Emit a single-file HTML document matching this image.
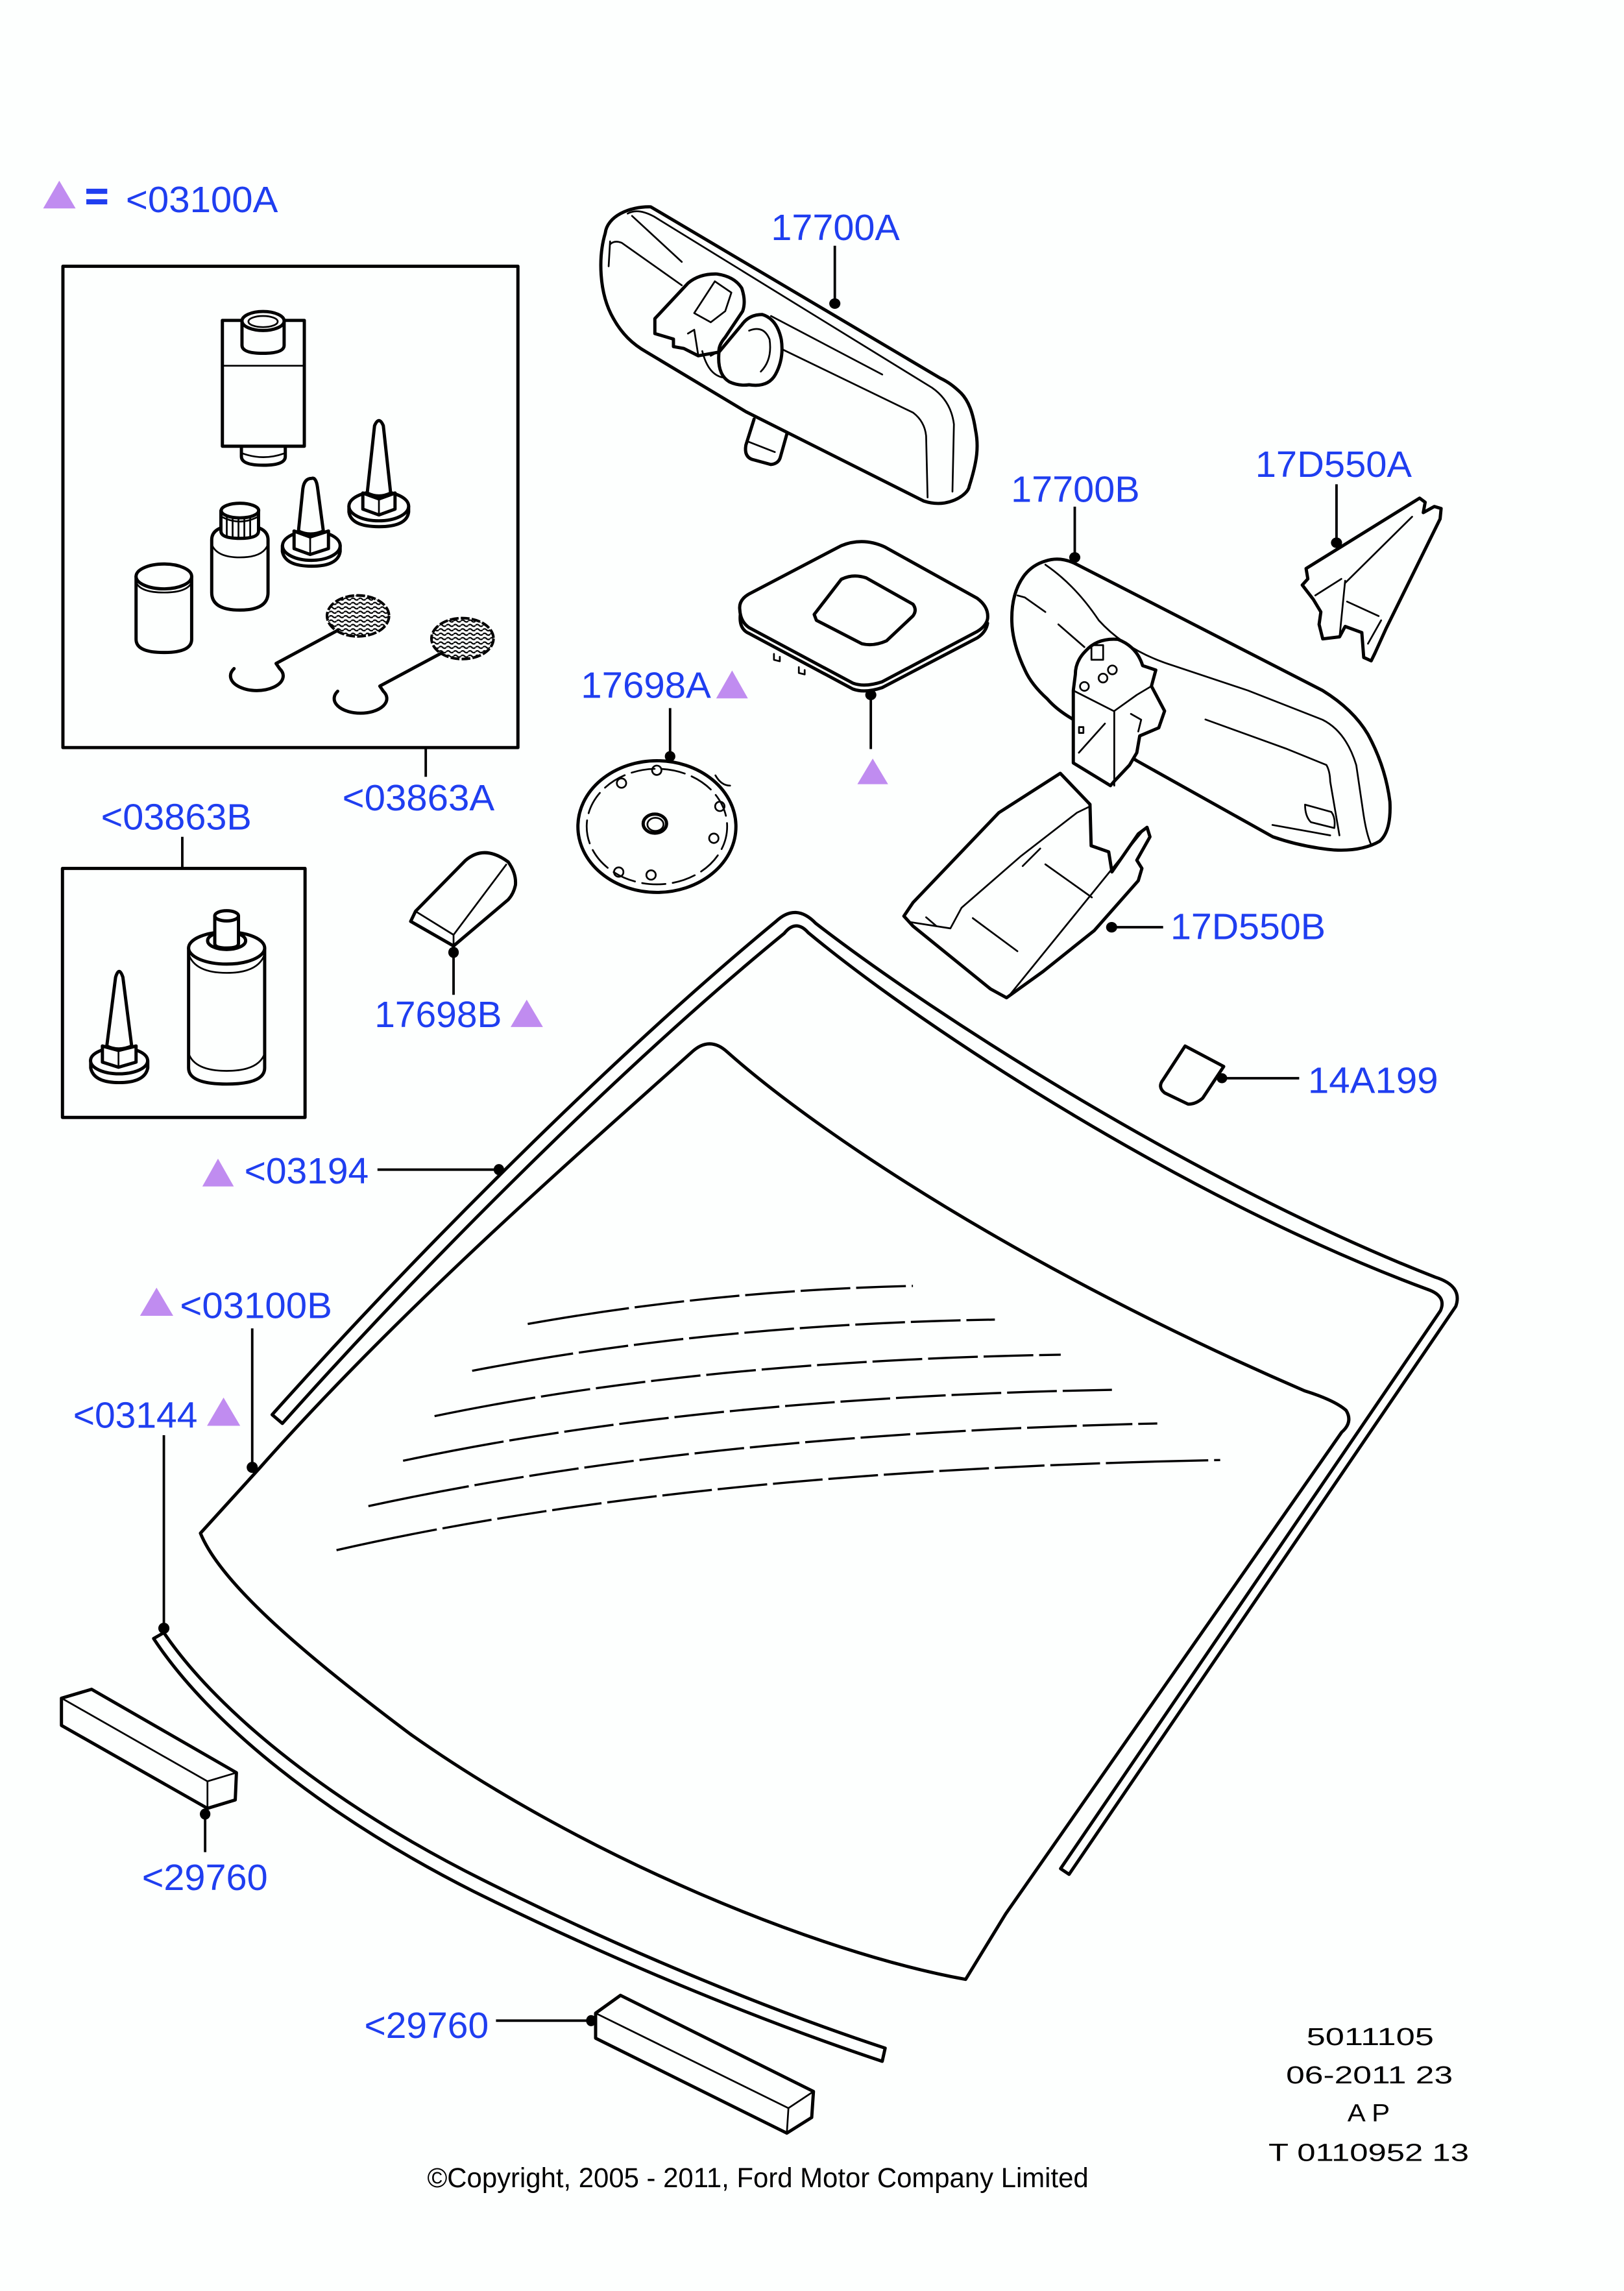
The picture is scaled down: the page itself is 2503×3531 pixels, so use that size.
<!DOCTYPE html>
<html>
<head>
<meta charset="utf-8">
<style>
html,body{margin:0;padding:0;background:#fdfffe;}
svg{display:block;}
.k{fill:none;stroke:#000;stroke-width:2.2;stroke-linejoin:round;stroke-linecap:round}
.kw{fill:#fdfffe;stroke:#000;stroke-width:2.2;stroke-linejoin:round;stroke-linecap:round}
.t{fill:none;stroke:#000;stroke-width:1.2;stroke-linejoin:round;stroke-linecap:round}
.l{fill:none;stroke:#000;stroke-width:1.7}
.g{fill:none;stroke:#000;stroke-width:1.5;stroke-linecap:butt}
.lab{font-family:"Liberation Sans",Arial,sans-serif;font-size:25px;fill:#1f3ef0}
.blk{font-family:"Liberation Sans",Arial,sans-serif;fill:#000}
.tri{fill:#c08cf0}
</style>
</head>
<body>
<svg width="2503" height="3531" viewBox="0 0 1110 1566" preserveAspectRatio="none" xmlns="http://www.w3.org/2000/svg">
<defs>
<pattern id="mesh" patternUnits="userSpaceOnUse" width="5" height="3">
<path d="M0,1.5 q1.25,-1.3 2.5,0 q1.25,1.3 2.5,0" stroke="#000" stroke-width="1" fill="none"/>
</pattern>
</defs>
<rect x="0" y="0" width="1110" height="1566" fill="#fdfffe"/>

<!-- Legend -->
<polygon class="tri" points="29.5,142.5 40.5,123.5 51.7,142.5"/>
<rect x="59" y="129" width="14.3" height="3.5" fill="#1f3ef0"/>
<rect x="59" y="136.2" width="14.3" height="3.5" fill="#1f3ef0"/>
<text class="lab" x="86" y="145" textLength="104" lengthAdjust="spacingAndGlyphs">&lt;03100A</text>

<!-- Box 1 -->
<rect x="43" y="182" width="311" height="329" class="k"/>
<line class="l" x1="291" y1="511" x2="291" y2="531"/>
<text class="lab" x="234" y="554" textLength="104" lengthAdjust="spacingAndGlyphs">&lt;03863A</text>

<!-- cartridge -->
<path class="k" d="M165,305 L165,312 Q165,318 180,318 Q195,318 195,312 L195,305"/>
<path class="t" d="M166,310 Q180,315 194,310"/>
<rect class="kw" x="152" y="219" width="56" height="86"/>
<line class="t" x1="152" y1="250" x2="208" y2="250"/>
<path class="kw" d="M165.4,219.4 L165.4,236 Q165.4,241.5 179.8,241.5 Q194.2,241.5 194.2,236 L194.2,219.4"/>
<ellipse class="kw" cx="179.8" cy="219.4" rx="14.4" ry="6.5"/>
<ellipse class="t" cx="179.8" cy="219.8" rx="10" ry="3.8"/>

<!-- tall cone -->
<path class="k" d="M238.5,346 L238.5,350 Q240,360 259,360 Q278,360 279.3,350 L279.3,346"/>
<ellipse class="kw" cx="258.9" cy="346" rx="20.4" ry="10"/>
<path class="kw" d="M248,337 L248,348 L259,352 L270,348 L270,337 L259,341 Z"/>
<line class="t" x1="259" y1="341" x2="259" y2="352"/>
<path class="kw" d="M251,337 L256,291 Q259,284 262,291 L267,337 Q259,341 251,337 Z"/>
<path class="k" d="M248,337 L259,341 L270,337"/>

<!-- short cone -->
<path class="k" d="M193,373 L193,377 Q195,387 213,387 Q231,387 232.5,377 L232.5,373"/>
<ellipse class="kw" cx="212.8" cy="373" rx="19.7" ry="10"/>
<path class="kw" d="M201,363 L201,375 L212,379 L224.5,375 L224.5,363 L212,367 Z"/>
<line class="t" x1="212" y1="367" x2="212" y2="379"/>
<path class="kw" d="M204,363 L207,334 Q208,327 213,327 Q216,326 217,333 L221,363 Q212,367 204,363 Z"/>
<path class="k" d="M201,363 L212,367 L224.5,363"/>

<!-- bottle -->
<path class="kw" d="M144.7,369 L144.7,405 Q144.7,417 164,417 Q183.2,417 183.2,405 L183.2,369 Q183.2,359 164,359 Q144.7,359 144.7,369 Z"/>
<path class="t" d="M144.7,372 Q148,381 164,381 Q180,381 183.2,372"/>
<path class="kw" d="M151,349 L151,363 Q151,368 164,368 Q176.7,368 176.7,363 L176.7,349"/>
<ellipse class="kw" cx="164" cy="349" rx="12.8" ry="5"/>
<path class="t" d="M155,354 L155,366 M159,355 L159,367 M163,355 L163,368 M167,355 L167,368 M171,354 L171,367 M151,353 Q164,360 176.7,353"/>

<!-- jar -->
<path class="kw" d="M93,394 L93,437 Q93,446 112,446 Q131,446 131,437 L131,394"/>
<ellipse class="kw" cx="112" cy="394" rx="19" ry="8.5"/>
<path class="t" d="M93,398 Q96,405 112,405 Q128,405 131,398"/>

<!-- mesh discs -->
<ellipse cx="244.7" cy="421" rx="21.2" ry="14" fill="url(#mesh)" stroke="#000" stroke-width="1.8" stroke-dasharray="6 1.5"/>
<path class="k" d="M230.8,430.9 L188.7,453.5 L191.1,457"/>
<path class="k" d="M160,457 A18,10 0 1 0 191.1,457"/>
<ellipse cx="316.1" cy="436.5" rx="21.2" ry="14" fill="url(#mesh)" stroke="#000" stroke-width="1.8" stroke-dasharray="6 1.5"/>
<path class="k" d="M301.7,446.4 L259.6,469 L262,472.5"/>
<path class="k" d="M230.8,472.5 A18,10 0 1 0 262,472.5"/>

<!-- Box 2 -->
<rect x="42.7" y="593.6" width="165.8" height="170.2" class="k"/>
<line class="l" x1="124.6" y1="572" x2="124.6" y2="594"/>
<text class="lab" x="69" y="567" textLength="103" lengthAdjust="spacingAndGlyphs">&lt;03863B</text>
<path class="kw" d="M128.9,648 L128.9,730 Q128.9,741 154.9,741 Q180.9,741 180.9,730 L180.9,648"/>
<ellipse class="kw" cx="154.9" cy="648" rx="26" ry="11"/>
<path class="t" d="M128.9,652 Q133,665 154.9,665 Q176.9,665 180.9,652"/>
<path class="t" d="M128.9,720 Q133,732 154.9,732 Q176.9,732 180.9,720"/>
<ellipse class="k" cx="154.9" cy="643" rx="13" ry="6"/>
<path class="kw" d="M146.8,626 L146.8,645 Q146.8,648 155,648 Q163,648 163,645 L163,626"/>
<ellipse class="kw" cx="154.9" cy="626" rx="8.1" ry="3.5"/>
<path class="k" d="M62,725 L62,730 Q64,740 81.4,740 Q99,740 101,730 L101,725"/>
<ellipse class="kw" cx="81.4" cy="725" rx="19.5" ry="9"/>
<path class="kw" d="M70,715 L70,726 L81,729.5 L93,726 L93,715 L81,718 Z"/>
<line class="t" x1="81" y1="718" x2="81" y2="729.5"/>
<path class="kw" d="M73,715 L79,668 Q81.4,660 84,668 L90,715 Q81,719 73,715 Z"/>
<path class="k" d="M70,715 L81,718 L93,715"/>

<!-- Mirror A (17700A) -->
<path class="k" d="M515.4,286.5 L509.8,304.3 Q508.5,312 514,314 L526.8,317.5 Q532.4,317 533.5,312 L538,296"/>
<path class="t" d="M511.2,301.8 L529.6,309"/>
<path class="kw" d="M444.8,141.4 C430,141 415,148 413.7,159.3 C409,175 409,200 419.3,217.8 C425,228 432,235 442,240.7 L509.8,281.4 L631.4,342.5 C636,344 641,344.5 645.6,343.8 C656,342 662,336 662.5,332.3 C668,315 669,305 666.8,294.1 C665,282 662,274 656.9,268.7 C652,264 648,261 642.7,258.5 Z"/>
<path class="t" d="M429,146 Q436,142 447,148 L637,265 Q650,274 652,290 L651,336"/>
<path class="t" d="M432,147.6 L466,179"/>
<path class="t" d="M417,167 Q420,164 425,166 L466,195 M527,216 L603,256"/>
<path class="t" d="M531,237 L624,282 Q632,288 633,298 L634,340"/>
<path class="t" d="M416,182 L417,165"/>
<path class="kw" d="M491.4,240.7 Q490,256 498.5,261 Q505,264 512,263 Q525,265 530,256 Q536,245 534,232 Q531,218 521,215 Q512,215 507,222 Z"/>
<path class="t" d="M512,226 Q522,222 526,232 Q528,246 520,254"/>
<path class="kw" d="M447.6,217.8 L470.2,193.6 Q478,187 490,187.3 Q502,189 507,197 Q510,206 507.6,212.7 L495.7,230.5 Q491,236 491.4,240.7 L477.3,243.2 L467.4,238.2 L460.3,236.9 L460.3,231.8 L447.6,228 Z"/>
<path class="t" d="M474.5,214 L488.6,192.3 L499.9,200 L495.7,212.7 L485.8,220.3 Z M470.2,228 L474.5,225.4 L477.3,243.2 M485.8,243.2 L492.8,239.4"/>
<path class="t" d="M480,240 Q484,256 494,258"/>
<line class="l" x1="570.6" y1="168" x2="570.6" y2="207"/>
<ellipse cx="570.6" cy="207.5" rx="3.8" ry="3.6"/>
<text class="lab" x="527" y="164" textLength="88" lengthAdjust="spacingAndGlyphs">17700A</text>

<!-- Pad -->
<path class="k" d="M506,420 Q505,430 512,433 L583,471 Q591,474 603,470 L668,436 Q674,432 675,426"/>
<path class="kw" d="M505.6,416.3 Q505,410 512,406 L575,373 Q590,367 605,374 L668,409 Q676,415 675,423 Q674,428 668,431.6 L603,466 Q591,470 583,467 L512,429 Q506,425 505.6,416.3 Z"/>
<path class="k" d="M556.5,420 L575,396 Q583,392 592,395 L624,413 Q627,417 624,421 L606,438 Q597,442 589,440 L558,424 Z"/>
<path class="t" d="M529,447 L529,451 L533,452 L533,449 M546,456 L546,460 L550,461 L550,458"/>
<ellipse cx="595.2" cy="475" rx="3.8" ry="3.6"/>
<line class="l" x1="595.2" y1="475" x2="595.2" y2="512"/>
<polygon class="tri" points="586,536 596.5,518.5 607,536"/>

<!-- 17698A disc -->
<text class="lab" x="397" y="477" textLength="89" lengthAdjust="spacingAndGlyphs">17698A</text>
<polygon class="tri" points="489.5,477.4 500.4,458.3 511.2,477.4"/>
<line class="l" x1="458" y1="484" x2="458" y2="517"/>
<ellipse cx="458" cy="517" rx="3.6" ry="3.6"/>
<ellipse class="k" cx="449" cy="565" rx="54" ry="45"/>
<ellipse class="t" cx="449" cy="565" rx="48" ry="39.5" stroke-dasharray="16 5"/>
<path class="t" d="M489,530 Q493,537 499,537"/>
<ellipse class="t" cx="424.8" cy="535.3" rx="3.2" ry="3.2"/>
<ellipse class="t" cx="448.9" cy="526.5" rx="3.2" ry="3.2"/>
<ellipse class="t" cx="492" cy="551.2" rx="3.2" ry="3.2"/>
<ellipse class="t" cx="487.9" cy="573" rx="3.2" ry="3.2"/>
<ellipse class="t" cx="445" cy="598.1" rx="3.2" ry="3.2"/>
<ellipse class="t" cx="422.9" cy="596.1" rx="3.2" ry="3.2"/>
<ellipse class="k" cx="447.6" cy="563" rx="8" ry="6.5"/>
<ellipse class="t" cx="448" cy="563.5" rx="5.5" ry="4.5"/>

<!-- 17698B wedge -->
<path class="kw" d="M284,622.9 L318.1,588.2 Q331,577 347.4,589.2 Q353,597 352.3,605 Q351,611 347.4,614.9 L310,646.6 L280.7,629.8 Z"/>
<path class="t" d="M284,622.9 L310,639 L310,646.6 M310,639 L346,591"/>
<ellipse cx="310" cy="651" rx="3.6" ry="3.8"/>
<line class="l" x1="310" y1="651" x2="310" y2="680"/>
<text class="lab" x="256" y="702" textLength="87" lengthAdjust="spacingAndGlyphs">17698B</text>
<polygon class="tri" points="349,702 360,683.3 371.1,702"/>

<!-- Mirror B (17700B) -->
<path class="kw" d="M714.5,383.5 Q725,380 736,385.8 L904,472 Q925,485 935,502 Q947,524 950,548 Q951,568 943,575 Q931,582 912,581 Q890,579 870,572 L777,520 L733.6,491.8 Q722,485 715.8,477.7 Q705,468 700.5,457.9 Q692,440 691.6,425 Q691,405 700.5,392.8 Q706,386 714.5,383.5 Z"/>
<path class="t" d="M714.5,386 Q735,400 751,424 Q770,445 802,455 L853,472 L904,492 Q920,500 927,523 L932,557 Q934,570 937,577"/>
<path class="t" d="M695.4,407 L700.5,408.4 L714.5,418.3 M723.4,426.8 L741.2,442.3"/>
<path class="t" d="M823.9,491.8 L878.7,511.6 L906.6,522.9 Q909,527 909.2,534.2 L915.5,571 M869.7,563.9 L909.2,571"/>
<path class="t" d="M892,550 L910,555 Q913,559 912,566 L896,562 Q892,558 892,550 Z"/>
<path class="kw" d="M733.6,472 L733.6,521.5 L759,537 L761.6,534 L772,523 L777,514.5 L779,503 L792,497.5 L796,486 L787,469 L790,458 L781,455 Q777,442 764,437 Q750,436 742,445 Q735,452 735,461 Z"/>
<path class="t" d="M733.6,472 L761.6,486.2 L761.6,537 M761.6,486 L777,475 L787,469 M737.4,514.5 L755.2,494.6 M746,441 L754,441 L754,451 L746,451 Z M773,488 L780,492 L778,500"/>
<circle class="t" cx="741.2" cy="469.2" r="3"/>
<circle class="t" cx="753.9" cy="463.5" r="3"/>
<circle class="t" cx="760.3" cy="457.9" r="3"/>
<rect class="t" x="737.5" y="497" width="3" height="4"/>
<line class="l" x1="734.6" y1="346.3" x2="734.6" y2="381"/>
<ellipse cx="734.6" cy="381" rx="3.8" ry="3.6"/>
<text class="lab" x="691" y="343" textLength="88" lengthAdjust="spacingAndGlyphs">17700B</text>

<!-- 17D550A bracket -->
<path class="kw" d="M892.7,388.6 L970.3,340.5 L974.1,343.3 L972.8,350.4 L980.4,346.2 L985,347.6 L984.3,354.7 L947.4,429.6 L939.7,446.6 L937.2,451.7 L932.1,449.4 L930.8,432.4 L919.4,428.2 L915.6,435.3 L904.1,436.7 L901.6,426.8 L902.8,418.3 L897.7,409.8 L890.1,399.9 L893.9,395.7 Z"/>
<path class="t" d="M919.4,398.5 L965.2,353.2 M919.4,397 L915.6,435.3 M920.7,411.2 L942.3,421.1 M899,407 L916.8,395.7 M944,424 L935,440"/>
<line class="l" x1="913.5" y1="331" x2="913.5" y2="371"/>
<ellipse cx="913.5" cy="371" rx="3.8" ry="3.6"/>
<text class="lab" x="858" y="326" textLength="107" lengthAdjust="spacingAndGlyphs">17D550A</text>

<!-- 17D550B cover -->
<path class="kw" d="M617.8,626.2 L624,617 L682.7,555.5 L724.7,528.6 L745,549.8 L745.8,578.1 L757.8,582.3 L760,596 L778,570 L784,565.5 L786,572 L777,588 L780.5,593.6 L778,602 L748,636 L713,664 L688,682 L677,676 L624,633 Z"/>
<path class="t" d="M622.9,630.4 L649.6,634.6 L657.2,620.5 L697.9,585.1 L736.1,555.5 L745,551.2"/>
<path class="t" d="M781.9,567 L690.3,679.9 M664.9,627.6 L695.4,650.2 M714.5,590.8 L746.3,613.4 M699,592 L711,580 M633,627 L640,633"/>
<ellipse cx="759.8" cy="633.8" rx="3.8" ry="3.6"/>
<line class="l" x1="759.8" y1="633.8" x2="795" y2="633.8"/>
<text class="lab" x="800" y="642" textLength="106" lengthAdjust="spacingAndGlyphs">17D550B</text>

<!-- 14A199 -->
<path class="k" d="M810,715 L836.4,729 L822,750.7 Q817,755 812,754.7 L796,747 Q791,743 795,738 Z"/>
<ellipse cx="835.2" cy="737" rx="3.6" ry="3.4"/>
<line class="l" x1="835.2" y1="737" x2="888" y2="737"/>
<text class="lab" x="894" y="747" textLength="89" lengthAdjust="spacingAndGlyphs">14A199</text>

<!-- Frame (03194) -->
<path class="k" d="M186,967 C286,855 420,721 530.4,629.8 Q544,617 557.5,631.1 C640,695 820,810 981,873 Q1000,879 995,893 L730.7,1281.2 L724.9,1277.3 L984.5,896 Q989,886 975.9,881.4 C815,822 635,706 552.4,637.5 Q544,628 536,638 C426,728 292,862 193,973 Z"/>

<!-- Glass -->
<path class="k" d="M137,1048 L177,1004 C277,891 403,782 473,719 Q485,708 497,719 C560,775 700,868 891.7,950.7 Q912,957 920,964 Q925,972 917,979 L687.4,1308.2 L660,1353 C560,1335 400,1270 280,1185 C200,1125 150,1080 137,1048 Z"/>

<!-- Glare lines -->
<g class="g" stroke-dasharray="70 4 34 4 34 4 34 4 34 4 34 4 34 4 34 4 34 4 34 4 34 4 34 4 34 4">
<path d="M360.7,905 Q490,882 624,879"/>
<path d="M322.7,937 Q490,905 680,902"/>
<path d="M297,968 Q480,930 725,926"/>
<path d="M275.5,998.5 Q480,955 760,950"/>
<path d="M251.8,1029.5 Q480,980 791,973"/>
<path d="M230,1059.6 Q470,1005 834,998"/>
</g>

<!-- Bottom strip (03144) -->
<path class="k" d="M112,1116 C150,1172 230,1235 330,1285 C420,1330 520,1372 605,1400 L603,1409 C516,1380 415,1338 324,1293 C223,1242 143,1178 105,1120 Z"/>

<!-- Leaders windshield -->
<text class="lab" x="167" y="809" textLength="85" lengthAdjust="spacingAndGlyphs">&lt;03194</text>
<polygon class="tri" points="138.3,811 149,792 159.8,811"/>
<line class="l" x1="258" y1="799.5" x2="341" y2="799.5"/>
<ellipse cx="341" cy="799.5" rx="3.6" ry="3.8"/>

<text class="lab" x="123" y="901" textLength="104" lengthAdjust="spacingAndGlyphs">&lt;03100B</text>
<polygon class="tri" points="95.7,899.4 107,880.2 118.4,899.4"/>
<line class="l" x1="172.4" y1="908" x2="172.4" y2="1003"/>
<ellipse cx="172.4" cy="1003" rx="3.8" ry="3.8"/>

<text class="lab" x="50" y="976" textLength="85" lengthAdjust="spacingAndGlyphs">&lt;03144</text>
<polygon class="tri" points="141.5,974.6 152.8,955.3 164.2,974.6"/>
<line class="l" x1="112" y1="981" x2="112" y2="1113"/>
<ellipse cx="112" cy="1113" rx="3.8" ry="3.8"/>

<!-- Block 1 -->
<path class="k" d="M42,1160.8 L62.6,1154.7 L161.6,1211.7 L160.8,1230.3 L141.8,1236.1 L42,1179.4 Z"/>
<path class="t" d="M42.5,1161 L141.8,1217.6 L161.6,1211.7 M141.8,1217.6 L141.8,1236"/>
<ellipse cx="140.2" cy="1240" rx="3.6" ry="3.8"/>
<line class="l" x1="140.2" y1="1240" x2="140.2" y2="1266"/>
<text class="lab" x="97" y="1292" textLength="86" lengthAdjust="spacingAndGlyphs">&lt;29760</text>

<!-- Block 2 -->
<path class="k" d="M407.1,1376.1 L424.1,1363.9 L556,1429.6 L554.8,1447.4 L537.8,1458.1 L407.1,1393.2 Z"/>
<path class="t" d="M407.1,1376.1 L538.9,1441 L556,1429.6 M538.9,1441 L537.8,1458.1"/>
<ellipse cx="404" cy="1381.2" rx="3.4" ry="3.8"/>
<line class="l" x1="339" y1="1381.2" x2="404" y2="1381.2"/>
<text class="lab" x="249" y="1393" textLength="85" lengthAdjust="spacingAndGlyphs">&lt;29760</text>

<!-- Footer texts -->
<text class="blk" x="893" y="1398" font-size="17" textLength="87" lengthAdjust="spacingAndGlyphs">5011105</text>
<text class="blk" x="879" y="1424" font-size="17" textLength="114" lengthAdjust="spacingAndGlyphs">06-2011 23</text>
<text class="blk" x="921" y="1450" font-size="17" textLength="29" lengthAdjust="spacingAndGlyphs">A P</text>
<text class="blk" x="867" y="1477" font-size="17" textLength="137" lengthAdjust="spacingAndGlyphs">T 0110952 13</text>
<text class="blk" x="292" y="1495" font-size="19" textLength="452" lengthAdjust="spacingAndGlyphs">©Copyright, 2005 - 2011, Ford Motor Company Limited</text>
</svg>
</body>
</html>
